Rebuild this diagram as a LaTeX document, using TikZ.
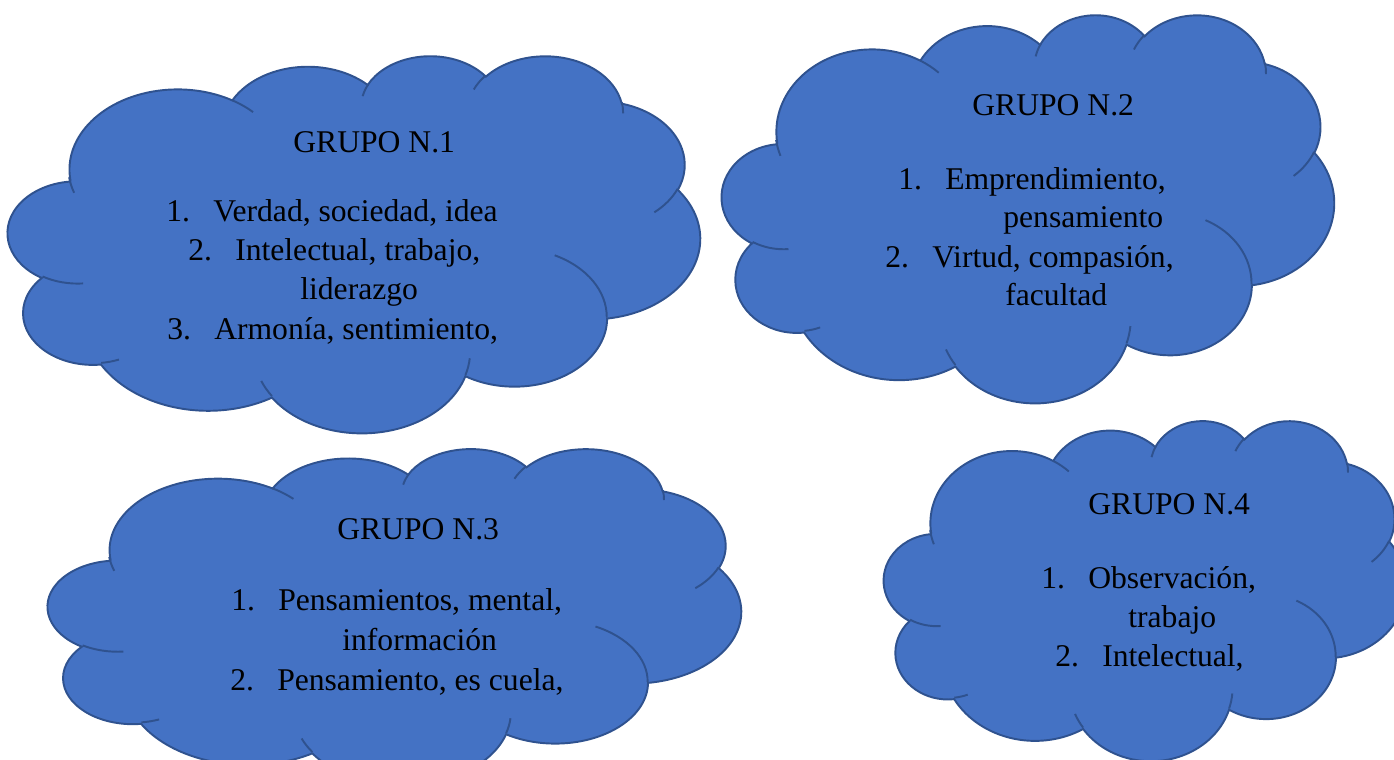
\documentclass[tikz,border=0pt]{standalone}
\usepackage{fontspec}
\setmainfont{Liberation Serif}

% one arc of the cloud outline, angles given the office way
\newcommand\carc[4]{\pgfextra{%
  \pgfmathparse{atan2(#1*sin(#3),#2*cos(#3))}\global\let\carcA\pgfmathresult
  \pgfmathparse{atan2(#1*sin(#3+#4),#2*cos(#3+#4))}\global\let\carcB\pgfmathresult
  \pgfmathparse{\carcA+mod(\carcB-\carcA+720,360)}\global\let\carcB\pgfmathresult}
  arc[start angle=\carcA, end angle=\carcB, x radius=#1, y radius=#2]}

\def\cloudbody{(39.00,143.70)
  \carc{67.53}{91.90}{-190.48748}{123.78053}
  \carc{53.33}{72.67}{-144.10238}{89.94523}
  \carc{43.65}{59.45}{-145.80792}{99.72302}
  \carc{48.57}{65.95}{-130.98607}{117.24173}
  \carc{53.33}{72.73}{-78.70888}{109.02692}
  \carc{67.75}{92.20}{-46.26725}{130.26900}
  \carc{57.85}{78.67}{0.62502}{114.03333}
  \carc{67.52}{92.15}{22.4516}{115.17255}
  \carc{77.20}{105.43}{66.24263}{75.71102}
  \carc{43.60}{59.18}{-274.94208}{146.73557}
  \carc{43.45}{59.45}{-246.8285}{152.51885} -- cycle}

\def\cloudfolds{(46.93,261.77) \carc{43.45}{59.45}{86.742}{26.4295}
  (69.28,348.99) \carc{43.60}{59.18}{73.61047}{11.44747}
  (164.78,390.90) \carc{67.52}{92.15}{137.62415}{14.0811}
  (288.27,347.51) \carc{67.52}{92.15}{6.45327}{15.99835}
  (341.29,229.54) \carc{57.85}{78.67}{-70.29235}{70.91737}
  (417.98,153.54) \carc{53.33}{72.73}{30.31803}{27.7515}
  (383.24,54.26) \carc{48.57}{65.95}{-13.74433}{14.8589}
  (290.78,39.52) \carc{48.57}{65.95}{-149.18145}{18.19537}
  (221.41,47.20) \carc{43.65}{59.45}{-163.49427}{17.68635}
  (140.00,51.92) \carc{67.53}{91.90}{-66.70695}{12.31935}
  (41.27,157.89) \carc{67.53}{91.90}{154.82573}{14.86133}}

% name, left, top, width, height
\newcommand\cloudat[5]{%
  \begin{scope}[shift={(#2,#3)}, x=#4*0.02cm/432, y=-#5*0.02cm/432]
    \path[cloud] \cloudbody;
    \path[fold] \cloudfolds;
    \coordinate (#1) at (216,216);
  \end{scope}}

\newcommand\itm[1]{\makebox[26.7pt][l]{#1}}

\definecolor{cloudfill}{HTML}{4472C4}
\definecolor{cloudedge}{HTML}{2F528F}

\begin{document}
\begin{tikzpicture}[x=0.02cm, y=-0.02cm,
  cloud/.style={fill=cloudfill, draw=cloudedge, line width=1.1pt},
  fold/.style={draw=cloudedge, line width=1.1pt},
  txt/.style={anchor=base west, inner sep=0pt, font=\fontsize{18}{22}\selectfont}]
  \useasboundingbox (0,0) rectangle (1394,760);
  \clip (0,0) rectangle (1394,760);

  \cloudat{c1}{8}{55}{692}{377}
  \cloudat{c2}{722}{14}{612}{388}
  \cloudat{c3}{48}{448}{693}{336}
  \cloudat{c4}{884}{420}{522}{340}

  % grupo 1
  \path (293,153) node[txt] (t1) {GRUPO N.1}
    (166,222) node[txt] (t1a) {\itm{1.}Verdad, sociedad, idea}
    (188,261) node[txt] (t1b) {\itm{2.}Intelectual, trabajo,}
    (300,300) node[txt] (t1c) {liderazgo}
    (167,340) node[txt] (t1d) {\itm{3.}Armonía, sentimiento,};
  % grupo 2
  \path (972,116) node[txt] (t2) {GRUPO N.2}
    (898,190) node[txt] (t2a) {\itm{1.}Emprendimiento,}
    (1003,228) node[txt] (t2b) {pensamiento}
    (885,268) node[txt] (t2c) {\itm{2.}Virtud, compasión,}
    (1005,306) node[txt] (t2d) {facultad};
  % grupo 3
  \path (337,539) node[txt] (t3) {GRUPO N.3}
    (231,610) node[txt] (t3a) {\itm{1.}Pensamientos, mental,}
    (342,650) node[txt] (t3b) {información}
    (230,690) node[txt] (t3c) {\itm{2.}Pensamiento, es cuela,};
  % grupo 4
  \path (1088,514) node[txt] (t4) {GRUPO N.4}
    (1041,588) node[txt] (t4a) {\itm{1.}Observación,}
    (1128,627) node[txt] (t4b) {trabajo}
    (1055,666) node[txt] (t4c) {\itm{2.}Intelectual,};
\end{tikzpicture}
\end{document}
